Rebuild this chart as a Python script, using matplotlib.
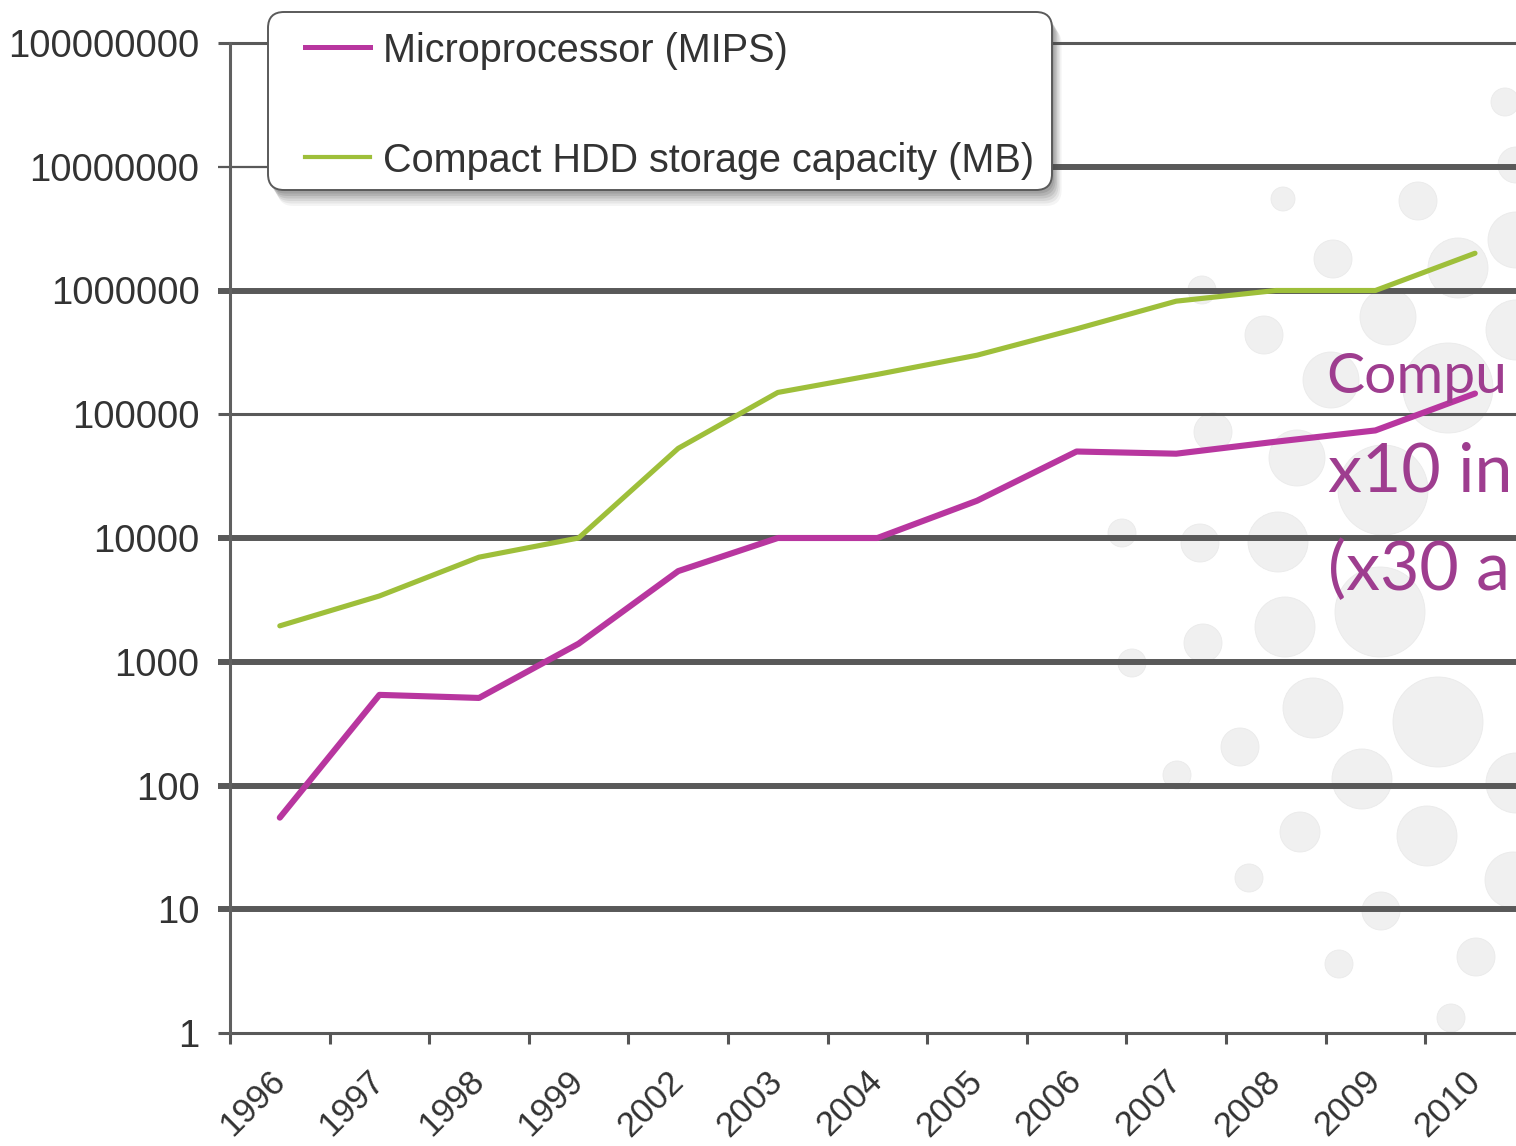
import matplotlib
matplotlib.use("Agg")
import matplotlib.pyplot as plt
from matplotlib.patches import Circle, FancyBboxPatch
from matplotlib.lines import Line2D
import matplotlib.transforms as mtransforms

# ---- data -------------------------------------------------------------
years = ['1996', '1997', '1998', '1999', '2002', '2003', '2004',
         '2005', '2006', '2007', '2008', '2009', '2010']
mips = [55, 540, 510, 1400, 5400, 10000, 10000,
        20000, 50000, 48000, 60000, 74000, 147000]
hdd_mb = [1950, 3400, 7000, 10000, 53000, 150000, 210000,
          300000, 490000, 820000, 1000000, 1000000, 2000000]
series_names = ['Microprocessor (MIPS)', 'Compact HDD storage capacity (MB)']
y_ticks = [1, 10, 100, 1000, 10000, 100000, 1000000, 10000000, 100000000]
callout_lines = ['Compu', 'x10 in', '(x30 a']

# ---- style ------------------------------------------------------------
W, H, DPI = 1516, 1146, 100
PURPLE = '#B8369F'
GREEN = '#9EBF3A'
GRID = '#595959'
TEXT = '#333333'
CALLOUT = '#9E3D8F'
plt.rcParams['font.family'] = ['Liberation Sans', 'DejaVu Sans']

fig = plt.figure(figsize=(W / DPI, H / DPI), dpi=DPI, facecolor='white')
inch = fig.dpi_scale_trans


def px(x, y):
    """pixel position (from top-left) -> inches for dpi_scale_trans"""
    return x / DPI, (H - y) / DPI


# decorative background bubbles
bubbles = [(1505, 102, 14), (1418, 201, 19), (1283, 199, 12), (1333, 259, 19),
           (1202, 290, 14), (1458, 268, 30), (1516, 165, 18), (1516, 240, 28),
           (1264, 335, 19), (1388, 317, 28), (1331, 380, 28), (1448, 388, 45),
           (1516, 330, 30), (1213, 432, 19), (1297, 458, 28), (1383, 490, 45),
           (1122, 533, 14), (1200, 543, 19), (1278, 542, 30), (1285, 627, 30),
           (1380, 612, 45), (1203, 643, 19), (1132, 663, 14), (1313, 708, 30),
           (1438, 722, 45), (1240, 747, 19), (1177, 775, 14), (1362, 779, 30),
           (1516, 783, 30), (1300, 832, 20), (1427, 836, 30), (1513, 880, 28),
           (1249, 878, 14), (1381, 911, 19), (1339, 964, 14), (1476, 957, 19),
           (1451, 1018, 14)]
for bx, by, br in bubbles:
    fig.patches.append(Circle(px(bx, by), br / DPI, transform=inch,
                              facecolor='#F0F0F0', edgecolor='#EAEAEA',
                              lw=0.6, zorder=-2))

# ---- axes -------------------------------------------------------------
left, right, top, bottom = 230, 230 + 13 * 99.6, 43, 1033
ax = fig.add_axes([left / W, (H - bottom) / H, (right - left) / W,
                   (bottom - top) / H])
ax.patch.set_alpha(0)
ax.set_yscale('log')
ax.set_ylim(1, 1e8)
ax.set_xlim(-0.5, len(years) - 0.5)

xpos = list(range(len(years)))

# horizontal rules (thin / thick as on the slide)
ext = -12 / (right - left)
blend = mtransforms.blended_transform_factory(ax.transAxes, ax.transData)
thin_vals = [100000, 100000000]
for v in y_ticks[1:]:
    if v == 10000000:
        lw = 1.6
    elif v in thin_vals:
        lw = 2.2
    else:
        lw = 4.3
    ax.add_line(Line2D([ext, 1], [v, v], transform=blend, color=GRID,
                       lw=lw, solid_capstyle='butt', clip_on=False, zorder=1))
# the 10^7 rule turns heavy to the right of the legend
x_leg_right = (1052 - left) / (right - left)
ax.add_line(Line2D([x_leg_right, 1], [1e7, 1e7], transform=blend, color=GRID,
                   lw=4.3, solid_capstyle='butt', clip_on=False, zorder=1))
ax.add_line(Line2D([ext, 1], [1, 1], transform=blend, color=GRID,
                   lw=2.2, solid_capstyle='butt', clip_on=False, zorder=1))

# series
ax.plot(xpos, hdd_mb, color=GREEN, lw=3.7, solid_joinstyle='round',
        solid_capstyle='round', zorder=3)
ax.plot(xpos, mips, color=PURPLE, lw=4.4, solid_joinstyle='round',
        solid_capstyle='round', zorder=4)

# spines / ticks
for s in ['top', 'right', 'bottom']:
    ax.spines[s].set_visible(False)
ax.spines['left'].set_color('#606060')
ax.spines['left'].set_linewidth(2.2)

ax.set_yticks(y_ticks)
ax.set_yticklabels([str(v) for v in y_ticks])
ax.yaxis.set_minor_locator(matplotlib.ticker.NullLocator())
ax.tick_params(axis='y', which='major', length=0, pad=22,
               labelsize=27.5, labelcolor=TEXT)

ax.set_xticks(xpos)
ax.set_xticklabels(years)
ax.set_xticks([i - 0.5 for i in range(len(years) + 1)], minor=True)
ax.tick_params(axis='x', which='major', length=0, pad=31,
               labelsize=25, labelcolor=TEXT)
ax.tick_params(axis='x', which='minor', length=8, width=2.2,
               color='#555555', direction='out')
for lab in ax.get_xticklabels():
    lab.set_rotation(45)
    lab.set_ha('right')
    lab.set_va('center')
    lab.set_rotation_mode('anchor')

# ---- legend box -------------------------------------------------------
lx0, ly0, lx1, ly1 = 268, 12, 1052, 190
for k, a in enumerate([0.06, 0.08, 0.10, 0.12, 0.14, 0.16]):
    off = 16 - 2.5 * k
    fig.patches.append(FancyBboxPatch(
        px(lx0 + off * 0.6, ly1 + off), (lx1 - lx0) / DPI, (ly1 - ly0) / DPI,
        boxstyle='round,pad=0,rounding_size=0.16', transform=inch,
        facecolor='#4A4A4A', edgecolor='none', alpha=a, zorder=4))
fig.patches.append(FancyBboxPatch(
    px(lx0, ly1), (lx1 - lx0) / DPI, (ly1 - ly0) / DPI,
    boxstyle='round,pad=0,rounding_size=0.16', transform=inch,
    facecolor='white', edgecolor='#5A5A5A', lw=1.4, zorder=5))

for (name, col, yy, lw) in [(series_names[0], PURPLE, 47, 3.6),
                            (series_names[1], GREEN, 157, 3.0)]:
    x0, y0 = px(305, yy)
    x1, _ = px(370, yy)
    fig.lines.append(Line2D([x0, x1], [y0, y0], transform=inch, color=col,
                            lw=lw, zorder=6))
    fig.text(383 / W, 1 - yy / H, name, ha='left', va='center_baseline',
             fontsize=28.5, color=TEXT, zorder=6)

# ---- callout text at the right edge ----------------------------------
for txt, base, fs, xl in zip(callout_lines, [393, 492, 590], [41, 49, 49],
                             [1326, 1328, 1328]):
    fig.text(xl / W, 1 - base / H, txt, ha='left', va='baseline',
             fontsize=fs, color=CALLOUT, family=['Lato', 'DejaVu Sans'])

fig.savefig('out.png', dpi=DPI, facecolor='white')
